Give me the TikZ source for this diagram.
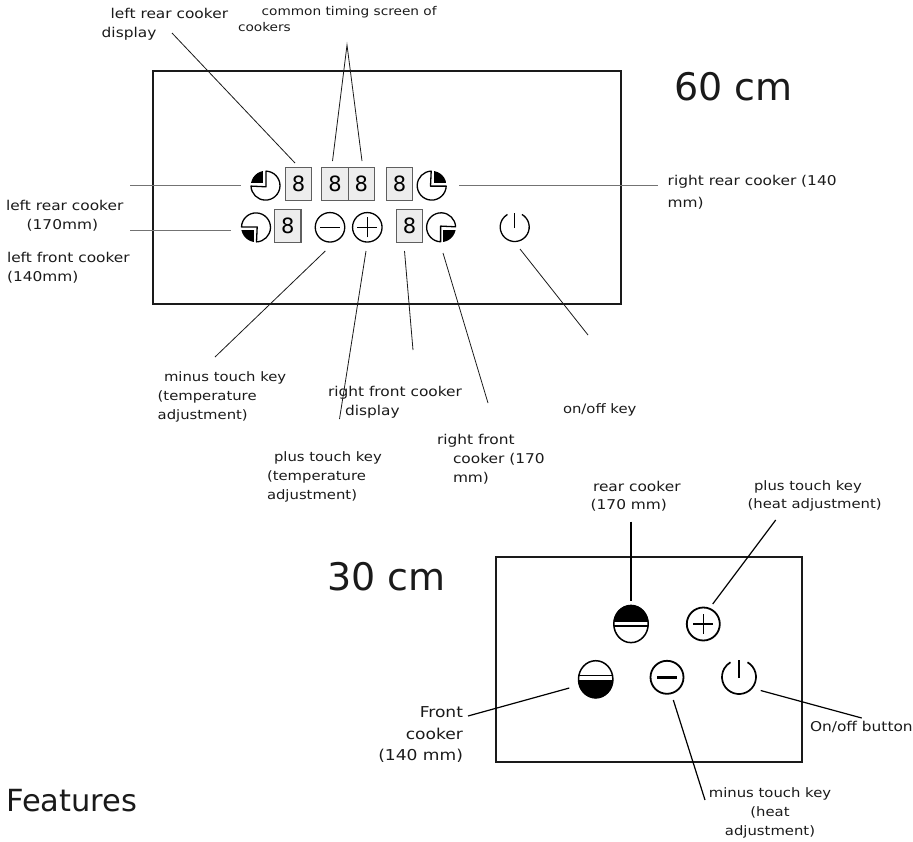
\documentclass[tikz,border=0pt]{standalone}
\usepackage{fontspec}
\setmainfont{DejaVu Sans}
\newfontfamily\lblfont[FakeStretch=1.14]{DejaVu Sans}
\definecolor{ink}{HTML}{1A1A1A}
\tikzset{
  x=1pt,y=1pt,
  panel/.style={draw=ink,line width=1.4pt},
  lead/.style={draw=ink,line width=0.8pt},
  leadgray/.style={draw=black!55,line width=1pt},
  leadthick/.style={draw=black,line width=1.2pt},
  lbl/.style={anchor=north west,align=left,inner sep=0pt,outer sep=0pt,font=\lblfont\fontsize{13.5}{19}\selectfont,text=ink},
  lblsmall/.style={lbl,font=\lblfont\fontsize{12}{16.6}\selectfont},
  lblmid/.style={lbl,font=\lblfont\fontsize{13}{19}\selectfont},
  lblbig/.style={lbl,font=\lblfont\fontsize{15}{21.5}\selectfont},
  big/.style={anchor=west,inner sep=0pt,font=\fontsize{38}{40}\selectfont,text=ink},
  digit/.style={draw=ink!70,fill=black!7,line width=1.1pt,minimum width=26.5pt,minimum height=33pt,inner sep=0pt,font=\fontsize{21}{21}\selectfont,text=black},
  ring/.style={circle,draw=black,line width=1.3pt,minimum size=29.5pt,inner sep=0pt},
  ringb/.style={circle,draw=black,line width=1.8pt,minimum size=33pt,inner sep=0pt},
  pics/quarter/.style={code={
    \begin{scope}
      \clip (0,0) circle (14.8);
      \fill[black] (-15,2.4) rectangle (-2.4,15);
    \end{scope}
    \draw[black,line width=1.3pt,line join=round] (0.4,14.5) arc[start angle=88,end angle=-178,radius=14.5] -- (0.4,-1.2) -- cycle;
  }},
  pics/power/.style 2 args={code={
    \draw[black,line width=#1] (60:#2) arc[start angle=60,end angle=-240,radius=#2];
    \draw[black,line width=#1] (0,-1) -- (0,#2);
  }},
}
\begin{document}
\begin{tikzpicture}
\useasboundingbox (0,0) rectangle (913,-841);
% panels
\node[panel,draw,minimum width=468pt,minimum height=233pt,inner sep=0pt] (panelA) at (387,-187.5) {};
\node[panel,draw,minimum width=306pt,minimum height=205pt,inner sep=0pt] (panelB) at (649,-659.5) {};
% displays
\node[digit] (dLR) at (298.5,-183.7) {8};
\node[digit] (dT1) at (335,-183.7) {8};
\node[digit] (dT2) at (361.3,-183.7) {8};
\node[digit] (dRR) at (399.5,-183.7) {8};
\node[digit] (dLF) at (287.7,-225.7) {8};
\node[digit] (dRF) at (409.5,-225.7) {8};
% 60 cm icons
\coordinate (iLR) at (265.6,-185.6);
\pic at (iLR) {quarter};
\coordinate (iRR) at (431.7,-185.7);
\pic[rotate=-90] at (iRR) {quarter};
\coordinate (iLF) at (256,-227.3);
\pic[rotate=90] at (iLF) {quarter};
\coordinate (iRF) at (441,-227.3);
\pic[rotate=180] at (iRF) {quarter};
\node[ring] (minusA) at (330,-227.3) {};
\draw[black,line width=1pt] (minusA.center)+(-10,0) -- +(10,0);
\node[ring] (plusA) at (367.3,-227.3) {};
\draw[black,line width=1pt] (plusA.center)+(-10,0) -- +(10,0) (plusA.center)+(0,-10) -- +(0,10);
\coordinate (powerA) at (514.7,-227);
\pic at (powerA) {power={1.3pt}{14.5}};
% 30 cm icons
\coordinate (iRear) at (631,-624);
\begin{scope}
  \clip (iRear) ellipse (17.6 and 19);
  \fill[black] (iRear) ++(-20,2.3) rectangle ++(40,20);
  \fill[black] (iRear) ++(-20,-0.5) rectangle ++(40,-2.5);
\end{scope}
\draw[black,line width=1.5pt] (iRear) ellipse (17.2 and 18.6);
\coordinate (iFront) at (595.7,-679.3);
\begin{scope}
  \clip (iFront) ellipse (17.6 and 19);
  \fill[black] (iFront) ++(-20,-0.3) rectangle ++(40,-20);
  \fill[black] (iFront) ++(-20,3.5) rectangle ++(40,1);
\end{scope}
\draw[black,line width=1.5pt] (iFront) ellipse (17.2 and 18.6);
\node[ringb] (plusB) at (703.3,-624) {};
\draw[black,line width=1.4pt] (plusB.center)+(-10,0) -- +(10,0) (plusB.center)+(0,-10) -- +(0,10);
\node[ringb] (minusB) at (667,-677.3) {};
\draw[black,line width=2.4pt] (minusB.center)+(-10,0) -- +(10,0);
\coordinate (powerB) at (739,-677);
\pic at (powerB) {power={1.7pt}{17}};
% labels
\node[lbl] (tLRD) at (101.7,-8) {\hspace*{9pt}left rear cooker\\display};
\node[lblsmall] (tCom) at (238,-6) {\hspace*{23.7pt}common timing screen of\\cookers};
\node[lbl] (tLR) at (6,-200.5) {left rear cooker\\\hspace*{20.7pt}(170mm)};
\node[lbl] (tLF) at (7,-252) {left front cooker\\(140mm)};
\node[lbl] (tRR) at (667.7,-175) {right rear cooker (140\\[3pt]mm)};
\node[lblmid] (tMin) at (157.7,-372) {\hspace*{6.3pt}minus touch key\\(temperature\\adjustment)};
\node[lblmid] (tPlus) at (267,-452) {\hspace*{7pt}plus touch key\\(temperature\\adjustment)};
\node[lbl] (tRFD) at (328,-386) {right front cooker\\\hspace*{17pt}display};
\node[lblmid] (tOn) at (563,-404) {on/off key};
\node[lbl] (tRF) at (437,-434) {right front\\\hspace*{16pt}cooker (170\\\hspace*{16pt}mm)};
\node[lbl] (tRear) at (590.7,-481) {\hspace*{2.3pt}rear cooker\\[-1pt](170 mm)};
\node[lblmid] (tPlusB) at (747.7,-481) {\hspace*{6.3pt}plus touch key\\[-1pt](heat adjustment)};
\node[lblbig,anchor=north east,align=right] (tFront) at (463,-706.7) {Front\\cooker\\(140 mm)};
\node[lbl] (tOnB) at (810,-721.7) {On/off button};
\node[lblmid,anchor=north,align=center] (tMinB) at (770,-788) {minus touch key\\(heat\\adjustment)};
\node[big] (t60) at (674,-87) {60 cm};
\node[big] (t30) at (327,-577) {30 cm};
\node[big,font=\fontsize{30.5}{34}\selectfont] (tFeat) at (6,-801) {Features};
% connector ends
\coordinate (a1) at (172,-33); \coordinate (a2) at (295,-163);
\coordinate (b0) at (347,-45); \coordinate (b1) at (332.5,-161); \coordinate (b2) at (362,-161);
\coordinate (c1) at (130,-185.7); \coordinate (c2) at (241,-185.7);
\coordinate (d1) at (130,-230); \coordinate (d2) at (231,-230);
\coordinate (e1) at (459,-185.7); \coordinate (e2) at (658,-185.7);
\coordinate (f1) at (325.3,-251); \coordinate (f2) at (215,-357);
\coordinate (g1) at (366,-251); \coordinate (g2) at (339.5,-419);
\coordinate (h1) at (404.5,-251); \coordinate (h2) at (413,-350);
\coordinate (i1) at (443,-253); \coordinate (i2) at (488,-403);
\coordinate (j1) at (520,-249); \coordinate (j2) at (588,-335);
\coordinate (k1) at (631,-521.7); \coordinate (k2) at (631,-600.7);
\coordinate (l1) at (775.7,-520); \coordinate (l2) at (712.7,-604);
\coordinate (m1) at (468,-716); \coordinate (m2) at (569.3,-688);
\coordinate (n1) at (760.7,-690.5); \coordinate (n2) at (861.7,-718);
\coordinate (o1) at (673.3,-700); \coordinate (o2) at (705,-800);
\draw[lead] (a1) -- (a2);
\draw[lead] (b1) -- (b0) -- (b2);
\draw[leadgray] (c1) -- (c2);
\draw[leadgray] (d1) -- (d2);
\draw[leadgray] (e1) -- (e2);
\draw[lead] (f1) -- (f2);
\draw[lead] (g1) -- (g2);
\draw[lead] (h1) -- (h2);
\draw[lead] (i1) -- (i2);
\draw[lead] (j1) -- (j2);
\draw[black,line width=2pt] (k1) -- (k2);
\draw[leadthick] (l1) -- (l2);
\draw[leadthick] (m1) -- (m2);
\draw[leadthick] (n1) -- (n2);
\draw[leadthick] (o1) -- (o2);
\end{tikzpicture}
\end{document}
